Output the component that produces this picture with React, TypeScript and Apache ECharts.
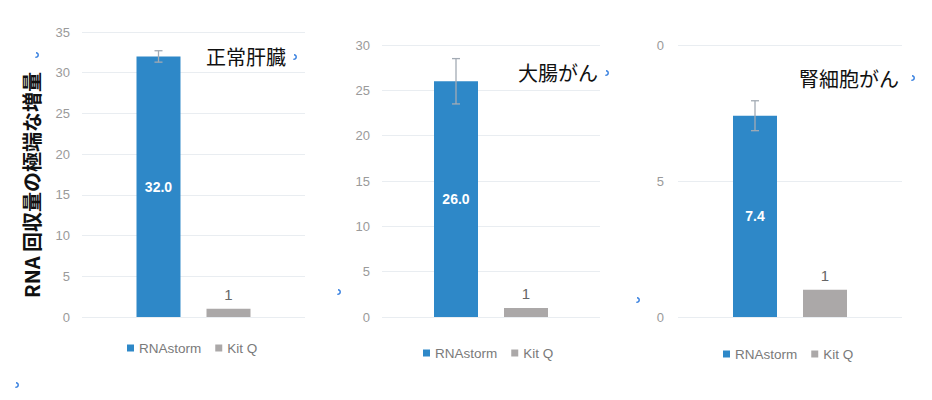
import React, { useEffect, useRef } from "react";
import * as echarts from "echarts";

// values
const panels = ["正常肝臓", "大腸がん", "腎細胞がん"];
const rnastormValues = [32.0, 26.0, 7.4];
const kitQValues = [1, 1, 1];
const rnastormErrors = [0.7, 2.5, 0.55];
const axisMax = [35, 30, 10];
const axisStep = [5, 5, 5];
const thirdPanelTicks = ["0", "5", "0"];
const seriesNames = ["RNAstorm", "Kit Q"];
const yAxisTitle = "RNA 回収量の極端な増量";

const BLUE = "#2e88c8";
const GREY = "#aba8a8";
const BAR_W = 44;
const BAR_GAP = 26;

const grids = [
    { left: 82, top: 32, width: 223, height: 285 },
    { left: 382, top: 45, width: 218, height: 272 },
    { left: 678, top: 45, width: 224, height: 272 },
];
const legendPos = [
    { left: 122, top: 336 },
    { left: 418, top: 341 },
    { left: 718, top: 342 },
];
const titlePos = [
    { x: 286, y: 56 },
    { x: 598, y: 72 },
    { x: 899, y: 78 },
];
const marks = [
    [36, 55], [294, 57], [16, 385], [338, 292], [606, 73], [637, 300], [912, 78],
];

const App = () => {
    const chartRef = useRef(null);

    useEffect(() => {
        document.body.style.margin = "0";
        if (!chartRef.current) return;
        const chart = echarts.init(chartRef.current, null, { renderer: "svg" });

        const offset = -(BAR_W + BAR_GAP) / 2;
        const series: any[] = [];
        panels.forEach((_, i) => {
            series.push({
                name: seriesNames[0],
                type: "bar",
                xAxisIndex: i,
                yAxisIndex: i,
                data: [rnastormValues[i]],
                barWidth: BAR_W,
                barGap: `${((BAR_GAP / BAR_W) * 100).toFixed(1)}%`,
                itemStyle: { color: BLUE },
                label: {
                    show: true,
                    position: "inside",
                    color: "#fff",
                    fontWeight: "bold",
                    fontSize: 14,
                    fontFamily: "Liberation Sans",
                    formatter: (p) => p.value.toFixed(1),
                },
            });
            series.push({
                name: seriesNames[1],
                type: "bar",
                xAxisIndex: i,
                yAxisIndex: i,
                data: [kitQValues[i]],
                barWidth: BAR_W,
                itemStyle: { color: GREY },
                label: {
                    show: true,
                    position: "top",
                    distance: 7,
                    color: "#666",
                    fontSize: 15,
                    fontFamily: "Liberation Sans",
                },
            });
            series.push({
                type: "custom",
                xAxisIndex: i,
                yAxisIndex: i,
                z: 5,
                data: [[0, rnastormValues[i], rnastormErrors[i]]],
                encode: { x: 0, y: 1 },
                renderItem: (params, api) => {
                    const v = api.value(1);
                    const e = api.value(2);
                    const top = api.coord([api.value(0), v + e]);
                    const bot = api.coord([api.value(0), v - e]);
                    const x = top[0] + offset;
                    const st = { stroke: "#a3abb4", lineWidth: 1.3 };
                    return {
                        type: "group",
                        children: [
                            { type: "line", shape: { x1: x, y1: top[1], x2: x, y2: bot[1] }, style: st },
                            { type: "line", shape: { x1: x - 4, y1: top[1], x2: x + 4, y2: top[1] }, style: st },
                            { type: "line", shape: { x1: x - 4, y1: bot[1], x2: x + 4, y2: bot[1] }, style: st },
                        ],
                    };
                },
            });
        });

        const options = {
            animation: false,
            backgroundColor: "#fff",
            grid: grids,
            legend: legendPos.map((p) => ({
                ...p,
                data: seriesNames,
                icon: "rect",
                itemWidth: 7,
                itemHeight: 7,
                itemGap: 14,
                textStyle: { color: "#7a7a7a", fontSize: 13.5, fontFamily: "Liberation Sans" },
                selectedMode: false,
            })),
            xAxis: panels.map((_, i) => ({
                type: "category",
                gridIndex: i,
                data: [""],
                axisLine: { show: false },
                axisTick: { show: false },
                axisLabel: { show: false },
            })),
            yAxis: panels.map((_, i) => ({
                type: "value",
                gridIndex: i,
                min: 0,
                max: axisMax[i],
                interval: axisStep[i],
                axisLine: { show: false },
                axisTick: { show: false },
                splitLine: { lineStyle: { color: "#e9edf1", width: 1.2 } },
                axisLabel: {
                    color: "#9a9a9a",
                    fontSize: 13,
                    fontFamily: "Liberation Sans",
                    margin: i === 2 ? 14 : 12,
                    formatter: i === 2
                        ? (v) => thirdPanelTicks[Math.round(v / axisStep[i])]
                        : (v) => String(v),
                },
            })),
            series,
            graphic: [
                {
                    type: "text",
                    x: 31,
                    y: 185,
                    rotation: Math.PI / 2,
                    style: {
                        text: yAxisTitle,
                        fill: "#111",
                        font: "bold 20px 'Noto Sans CJK JP', 'Liberation Sans'",
                        align: "center",
                        verticalAlign: "middle",
                    },
                },
                ...panels.map((t, i) => ({
                    type: "text",
                    x: titlePos[i].x,
                    y: titlePos[i].y,
                    style: {
                        text: t,
                        fill: "#111",
                        font: "20px 'Noto Sans CJK JP'",
                        align: "right",
                        verticalAlign: "middle",
                    },
                })),
                ...marks.map(([cx, cy]) => ({
                    type: "arc",
                    shape: { cx, cy, r: 2.2, startAngle: -Math.PI / 2, endAngle: Math.PI * 0.6 },
                    style: { stroke: "#3b82e0", lineWidth: 1.5, fill: "none" },
                })),
            ],
        };

        chart.setOption(options);
        return () => chart.dispose();
    }, []);

    return <div ref={chartRef} style={{ width: "932px", height: "400px" }} />;
};

export default App;
